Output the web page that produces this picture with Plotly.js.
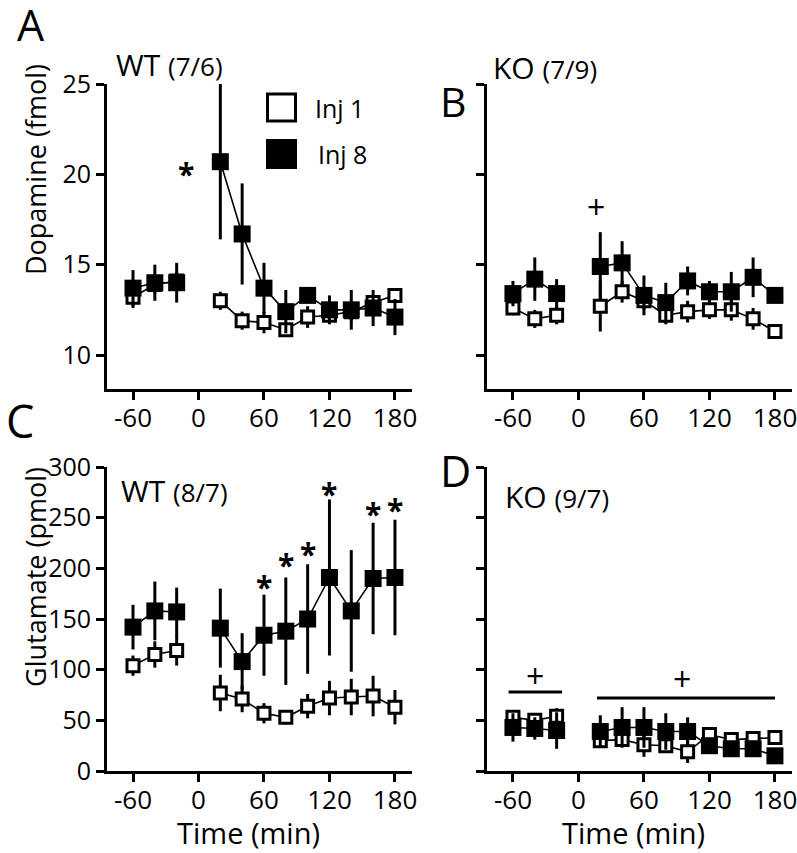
<!DOCTYPE html>
<html>
<head>
<meta charset="utf-8">
<script src="https://cdn.plot.ly/plotly-3.0.1.min.js"></script>
<style>html,body{margin:0;padding:0;background:#fff;}#chart{width:797px;height:853px;}</style>
</head>
<body>
<div id="chart"></div>
<script>
// ---------- data ----------
const time = [-60, -40, -20, 20, 40, 60, 80, 100, 120, 140, 160, 180];
const xTickVals = [-60, 0, 60, 120, 180];
const xTickText = ['-60', '0', '60', '120', '180'];
const daTickVals = [10, 15, 20, 25];
const gluTickVals = [0, 50, 100, 150, 200, 250, 300];

// A: dopamine, WT
const daWT_inj1     = [13.2, 13.9, 14.1, 13.0, 11.9, 11.8, 11.4, 12.1, 12.2, 12.4, 12.9, 13.3];
const daWT_inj1_err = [0.6, 0.5, 0.5, 0.5, 0.5, 0.6, 0.4, 0.6, 0.4, 0.5, 0.4, 0.3];
const daWT_inj8     = [13.7, 14.0, 14.0, 20.7, 16.7, 13.7, 12.4, 13.3, 12.5, 12.5, 12.6, 12.1];
const daWT_inj8_err = [1.0, 1.0, 1.1, 4.3, 2.8, 1.4, 1.2, 0.4, 0.8, 1.1, 1.0, 1.0];
// B: dopamine, KO
const daKO_inj1     = [12.6, 12.0, 12.2, 12.7, 13.5, 13.0, 12.2, 12.4, 12.5, 12.5, 12.0, 11.3];
const daKO_inj1_err = [0.4, 0.5, 0.5, 1.4, 0.6, 0.5, 0.5, 0.6, 0.5, 0.6, 0.6, 0.4];
const daKO_inj8     = [13.4, 14.2, 13.4, 14.9, 15.1, 13.3, 12.9, 14.1, 13.5, 13.5, 14.3, 13.3];
const daKO_inj8_err = [0.7, 1.2, 0.8, 1.9, 1.2, 1.1, 1.1, 0.8, 0.6, 1.1, 1.1, 0.3];
// C: glutamate, WT
const gluWT_inj1     = [104, 115, 119, 77, 71, 57, 53, 64, 72, 73, 74, 63];
const gluWT_inj1_err = [10, 13, 15, 18, 13, 10, 7, 12, 17, 18, 20, 17];
const gluWT_inj8     = [142, 158, 157, 141, 108, 134, 138, 150, 191, 158, 190, 191];
const gluWT_inj8_err = [22, 29, 24, 39, 28, 40, 53, 54, 77, 60, 55, 57];
// D: glutamate, KO
const gluKO_inj1     = [53, 50, 54, 30, 31, 26, 25, 19, 36, 31, 32, 33];
const gluKO_inj1_err = [5, 5, 8, 5, 5, 12, 5, 11, 4, 3, 3, 3];
const gluKO_inj8     = [43, 42, 40, 39, 43, 43, 39, 39, 25, 22, 22, 15];
const gluKO_inj8_err = [14, 11, 18, 16, 20, 20, 18, 14, 5, 4, 4, 5];

// significance marks
const starA_x = [-11], starA_y = [20.4];
const plusB_x = [16], plusB_y = [18.2];
const starC_x = [60, 80, 100, 120, 160, 180];
const starC_y = [188, 210, 221, 280, 260, 264];
const plusD_x = [-40, 95], plusD_y = [94, 91];
const barD_x0 = [-64, 17], barD_x1 = [-15, 180], barD_y = [78, 72];

// ---------- build ----------
const FONT = 'Open Sans, Liberation Sans, sans-serif';
const splitAt = 3;
const traces = [];
function addSeries(y, err, xa, ya, filled) {
  [[0, splitAt], [splitAt, time.length]].forEach(([a, b]) => {
    traces.push({
      type: 'scatter', mode: 'lines+markers',
      x: time.slice(a, b), y: y.slice(a, b),
      xaxis: xa, yaxis: ya, showlegend: false, cliponaxis: false,
      line: {color: 'black', width: 1.6},
      marker: filled
        ? {symbol: 'square', size: 17, color: 'black', line: {width: 0}}
        : {symbol: 'square', size: 12, color: 'white', line: {color: 'black', width: 3}},
      error_y: {type: 'data', array: err.slice(a, b), visible: true, thickness: 3, width: 0, color: 'black'}
    });
  });
}
addSeries(daWT_inj1, daWT_inj1_err, 'x', 'y', false);
addSeries(daWT_inj8, daWT_inj8_err, 'x', 'y', true);
addSeries(daKO_inj1, daKO_inj1_err, 'x2', 'y2', false);
addSeries(daKO_inj8, daKO_inj8_err, 'x2', 'y2', true);
addSeries(gluWT_inj1, gluWT_inj1_err, 'x3', 'y3', false);
addSeries(gluWT_inj8, gluWT_inj8_err, 'x3', 'y3', true);
addSeries(gluKO_inj1, gluKO_inj1_err, 'x4', 'y4', false);
addSeries(gluKO_inj8, gluKO_inj8_err, 'x4', 'y4', true);

const axBase = {
  showline: true, linewidth: 3, linecolor: 'black', mirror: false,
  ticks: 'outside', ticklen: 8, tickwidth: 3, tickcolor: 'black',
  showgrid: false, zeroline: false, fixedrange: true, ticklabeloverflow: 'allow'
};
function xax(domain, anchor) {
  return Object.assign({}, axBase, {domain, anchor, range: [-83.8, 195.6],
    tickmode: 'array', tickvals: xTickVals, ticktext: xTickText, ticklabelstandoff: -4,
    tickfont: {family: FONT, size: 26, color: 'black'}});
}
function yax(domain, anchor, range, tv, labels) {
  return Object.assign({}, axBase, {domain, anchor, range,
    tickmode: 'array', tickvals: tv, showticklabels: labels, ticklabelstandoff: 0,
    tickfont: {family: FONT, size: 25, color: 'black'}});
}
const dxL = [0.1343, 0.5169], dxR = [0.6110, 0.9937];
const dyT = [0.5440, 0.9015], dyB = [0.0961, 0.4525];

const ann = [];
function txt(text, x, y, size, opts) {
  ann.push(Object.assign({text, x, y, xref: 'paper', yref: 'paper', showarrow: false,
    font: {family: FONT, size, color: 'black'}, xanchor: 'center', yanchor: 'middle'}, opts || {}));
}
// panel letters
txt('A', 31/797, 1 - 25/853, 43);
txt('B', 453/797, 1 - 101/853, 41);
txt('C', 20/797, 1 - 421/853, 45);
txt('D', 455/797, 1 - 470/853, 43);
// subtitles
const sub = s => '<span style="font-size:26px">' + s + '</span>';
txt('WT ' + sub('(7/6)'), 114/797, 1 - 64/853, 30, {xanchor: 'left'});
txt('KO ' + sub('(7/9)'), 491/797, 1 - 68/853, 30, {xanchor: 'left'});
txt('WT ' + sub('(8/7)'), 119/797, 1 - 490/853, 30, {xanchor: 'left'});
txt('KO ' + sub('(9/7)'), 503/797, 1 - 496/853, 30, {xanchor: 'left'});
// axis titles
txt('Dopamine (fmol)', 35/797, 1 - 170/853, 27, {textangle: -90});
txt('Glutamate (pmol)', 35/797, 1 - 577/853, 27, {textangle: -90});
txt('Time (min)', 248/797, 1 - 832/853, 29);
txt('Time (min)', 633/797, 1 - 832/853, 29);
// legend text
txt('Inj 1', 313/797, 1 - 108/853, 25, {xanchor: 'left'});
txt('Inj 8', 316/797, 1 - 154/853, 25, {xanchor: 'left'});

// significance markers (data coords)
function mark(text, x, y, xr, yr, size, yshift) {
  ann.push({text, x, y, xref: xr, yref: yr, showarrow: false, yshift: yshift,
    font: {family: FONT, size, color: 'black'}, xanchor: 'center', yanchor: 'middle'});
}
starA_x.forEach((x, i) => mark('<b>*</b>', x, starA_y[i], 'x', 'y', 30, -6));
plusB_x.forEach((x, i) => mark('+', x, plusB_y[i], 'x2', 'y2', 32, 0));
starC_x.forEach((x, i) => mark('<b>*</b>', x, starC_y[i], 'x3', 'y3', 30, -6));
plusD_x.forEach((x, i) => mark('+', x, plusD_y[i], 'x4', 'y4', 32, 0));

const shapes = [];
barD_x0.forEach((x0, i) => shapes.push({type: 'line', xref: 'x4', yref: 'y4',
  x0, x1: barD_x1[i], y0: barD_y[i], y1: barD_y[i], line: {color: 'black', width: 3}}));
// legend symbols
shapes.push({type: 'rect', xref: 'paper', yref: 'paper',
  x0: 267.5/797, x1: 295.5/797, y0: 1 - 121/853, y1: 1 - 94/853,
  fillcolor: 'white', line: {color: 'black', width: 3}});
shapes.push({type: 'rect', xref: 'paper', yref: 'paper',
  x0: 266/797, x1: 297/797, y0: 1 - 169/853, y1: 1 - 139/853,
  fillcolor: 'black', line: {color: 'black', width: 0}});

const layout = {
  width: 797, height: 853, margin: {l: 0, r: 0, t: 0, b: 0},
  paper_bgcolor: 'white', plot_bgcolor: 'white', showlegend: false,
  font: {family: FONT, color: 'black'},
  xaxis: xax(dxL, 'y'), yaxis: yax(dyT, 'x', [8.12, 25], daTickVals, true),
  xaxis2: xax(dxR, 'y2'), yaxis2: yax(dyT, 'x2', [8.12, 25], daTickVals, false),
  xaxis3: xax(dxL, 'y3'), yaxis3: yax(dyB, 'x3', [0, 300], gluTickVals, true),
  xaxis4: xax(dxR, 'y4'), yaxis4: yax(dyB, 'x4', [0, 300], gluTickVals, false),
  annotations: ann, shapes: shapes
};
Plotly.newPlot('chart', traces, layout, {staticPlot: true, displayModeBar: false});
</script>
</body>
</html>
